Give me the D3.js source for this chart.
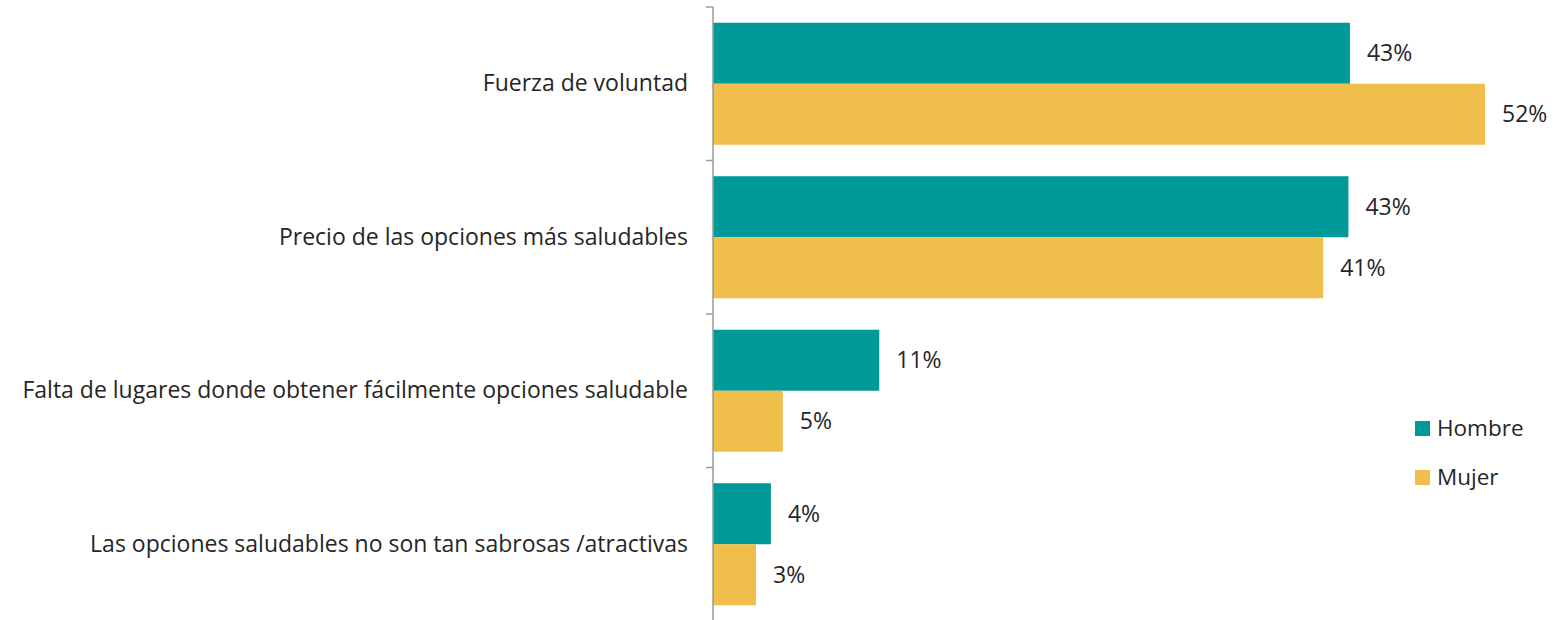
<!DOCTYPE html>
<html>
<head>
<meta charset="utf-8">
<script src="https://cdn.jsdelivr.net/npm/d3@7"></script>
<style>
    body { margin: 0; background: #fff; }
    svg text { font-family: "Open Sans", sans-serif; fill: #262626; }
</style>
</head>
<body>
<div id="chart"></div>
<script>
// Chart data
const categories = [
    'Fuerza de voluntad',
    'Precio de las opciones más saludables',
    'Falta de lugares donde obtener fácilmente opciones saludable',
    'Las opciones saludables no son tan sabrosas /atractivas'
];
const seriesNames = ['Hombre', 'Mujer'];
const hombreValues = [42.9, 42.8, 11.2, 3.9];
const mujerValues = [52.0, 41.1, 4.7, 2.9];
const valueLabels = [
    ['43%', '52%'],
    ['43%', '41%'],
    ['11%', '5%'],
    ['4%', '3%']
];

const colors = { Hombre: '#009999', Mujer: '#F0BE4A' };

const width = 1558;
const height = 620;
const axisX = 713;
const fontSize = '23px';

const svg = d3.select('#chart').append('svg')
    .attr('width', width)
    .attr('height', height);

// Y scale: one band per category
const yScale = d3.scaleBand()
    .domain(categories)
    .range([7, 621])
    .paddingInner(0.205)
    .paddingOuter(0.1025);

// inner band for the two series
const ySub = d3.scaleBand()
    .domain(seriesNames)
    .range([0, yScale.bandwidth()]);

// X scale (percent)
const xScale = d3.scaleLinear()
    .domain([0, 52])
    .range([axisX, 1485]);

const rows = categories.map((c, i) => ({
    category: c,
    values: [
        { name: 'Hombre', value: hombreValues[i], label: valueLabels[i][0] },
        { name: 'Mujer', value: mujerValues[i], label: valueLabels[i][1] }
    ]
}));

const groups = svg.selectAll('.cat')
    .data(rows)
    .join('g')
    .attr('class', 'cat')
    .attr('transform', d => `translate(0, ${yScale(d.category)})`);

groups.selectAll('rect')
    .data(d => d.values)
    .join('rect')
    .attr('x', xScale(0))
    .attr('y', d => ySub(d.name))
    .attr('width', d => xScale(d.value) - xScale(0))
    .attr('height', ySub.bandwidth())
    .attr('fill', d => colors[d.name]);

groups.selectAll('.val')
    .data(d => d.values)
    .join('text')
    .attr('class', 'val')
    .attr('x', d => xScale(d.value) + 17)
    .attr('y', d => ySub(d.name) + ySub.bandwidth() / 2)
    .attr('dy', '0.35em')
    .style('font-size', fontSize)
    .text(d => d.label);

// Y axis with category labels
const axisScale = d3.scaleBand()
    .domain(categories)
    .range([7, 621]);

const yAxis = d3.axisLeft(yScale)
    .tickSize(0)
    .tickPadding(25);

const axisG = svg.append('g')
    .attr('transform', `translate(${axisX}, 0)`)
    .call(yAxis);
axisG.select('.domain').remove();
axisG.selectAll('text')
    .style('font-size', fontSize)
    .style('font-family', '"Open Sans", sans-serif')
    .attr('fill', '#262626');

// axis line and category boundary ticks
svg.append('line')
    .attr('x1', axisX).attr('x2', axisX)
    .attr('y1', 7).attr('y2', height)
    .attr('stroke', '#9a9a9a')
    .attr('stroke-width', 1.5);

const boundaries = categories.map(c => axisScale(c)).concat([axisScale.range()[1]]);
svg.selectAll('.bound')
    .data(boundaries)
    .join('line')
    .attr('class', 'bound')
    .attr('x1', axisX - 7).attr('x2', axisX)
    .attr('y1', d => d).attr('y2', d => d)
    .attr('stroke', '#9a9a9a')
    .attr('stroke-width', 1.5);

// Legend
const legend = svg.append('g')
    .attr('transform', 'translate(1415, 421)');

const legendItems = legend.selectAll('g')
    .data(seriesNames)
    .join('g')
    .attr('transform', (d, i) => `translate(0, ${i * 49})`);

legendItems.append('rect')
    .attr('width', 15)
    .attr('height', 15)
    .attr('fill', d => colors[d]);

legendItems.append('text')
    .attr('x', 22)
    .attr('y', 7.5)
    .attr('dy', '0.35em')
    .style('font-size', '22.5px')
    .text(d => d);
</script>
</body>
</html>
